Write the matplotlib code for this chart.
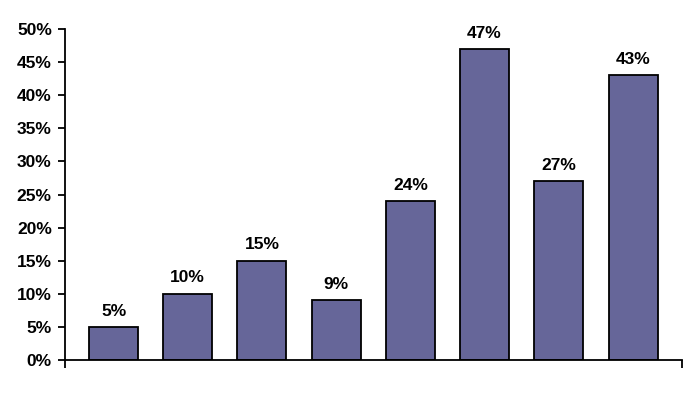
import matplotlib
matplotlib.use("Agg")
import matplotlib.pyplot as plt
from matplotlib.ticker import PercentFormatter

plt.rcParams['font.family'] = ['Liberation Sans', 'DejaVu Sans']

categories = ["A", "B", "C", "D", "E", "F", "G", "H"]
values = [5, 10, 15, 9, 24, 47, 27, 43]

fig = plt.figure(figsize=(6.97, 3.99), dpi=100)
ax = fig.add_axes([0.0933, 0.0977, 0.8852, 0.8296])

x = range(len(categories))
bars = ax.bar(x, values, width=0.66, color='#666699', edgecolor='black', linewidth=1.3)

for b, v in zip(bars, values):
    ax.annotate(f"{v}%", (b.get_x() + b.get_width() / 2, v), xytext=(0, 6),
                textcoords='offset points', ha='center', va='bottom',
                fontsize=12.5, fontweight='bold')

ax.set_ylim(0, 50)
ax.set_yticks(range(0, 51, 5))
ax.yaxis.set_major_formatter(PercentFormatter(decimals=0))
ax.set_xlim(-0.654, len(categories) - 1 + 0.66)
ax.set_xticks([-0.654, len(categories) - 1 + 0.66])
ax.set_xticklabels([])

for s in ['top', 'right']:
    ax.spines[s].set_visible(False)
for s in ['left', 'bottom']:
    ax.spines[s].set_linewidth(1.3)

ax.tick_params(axis='y', length=5, width=1.3, pad=4.5, labelsize=12.5)
ax.tick_params(axis='x', length=6, width=1.3)
for lbl in ax.get_yticklabels():
    lbl.set_fontweight('bold')

fig.savefig("out.png", dpi=100)
